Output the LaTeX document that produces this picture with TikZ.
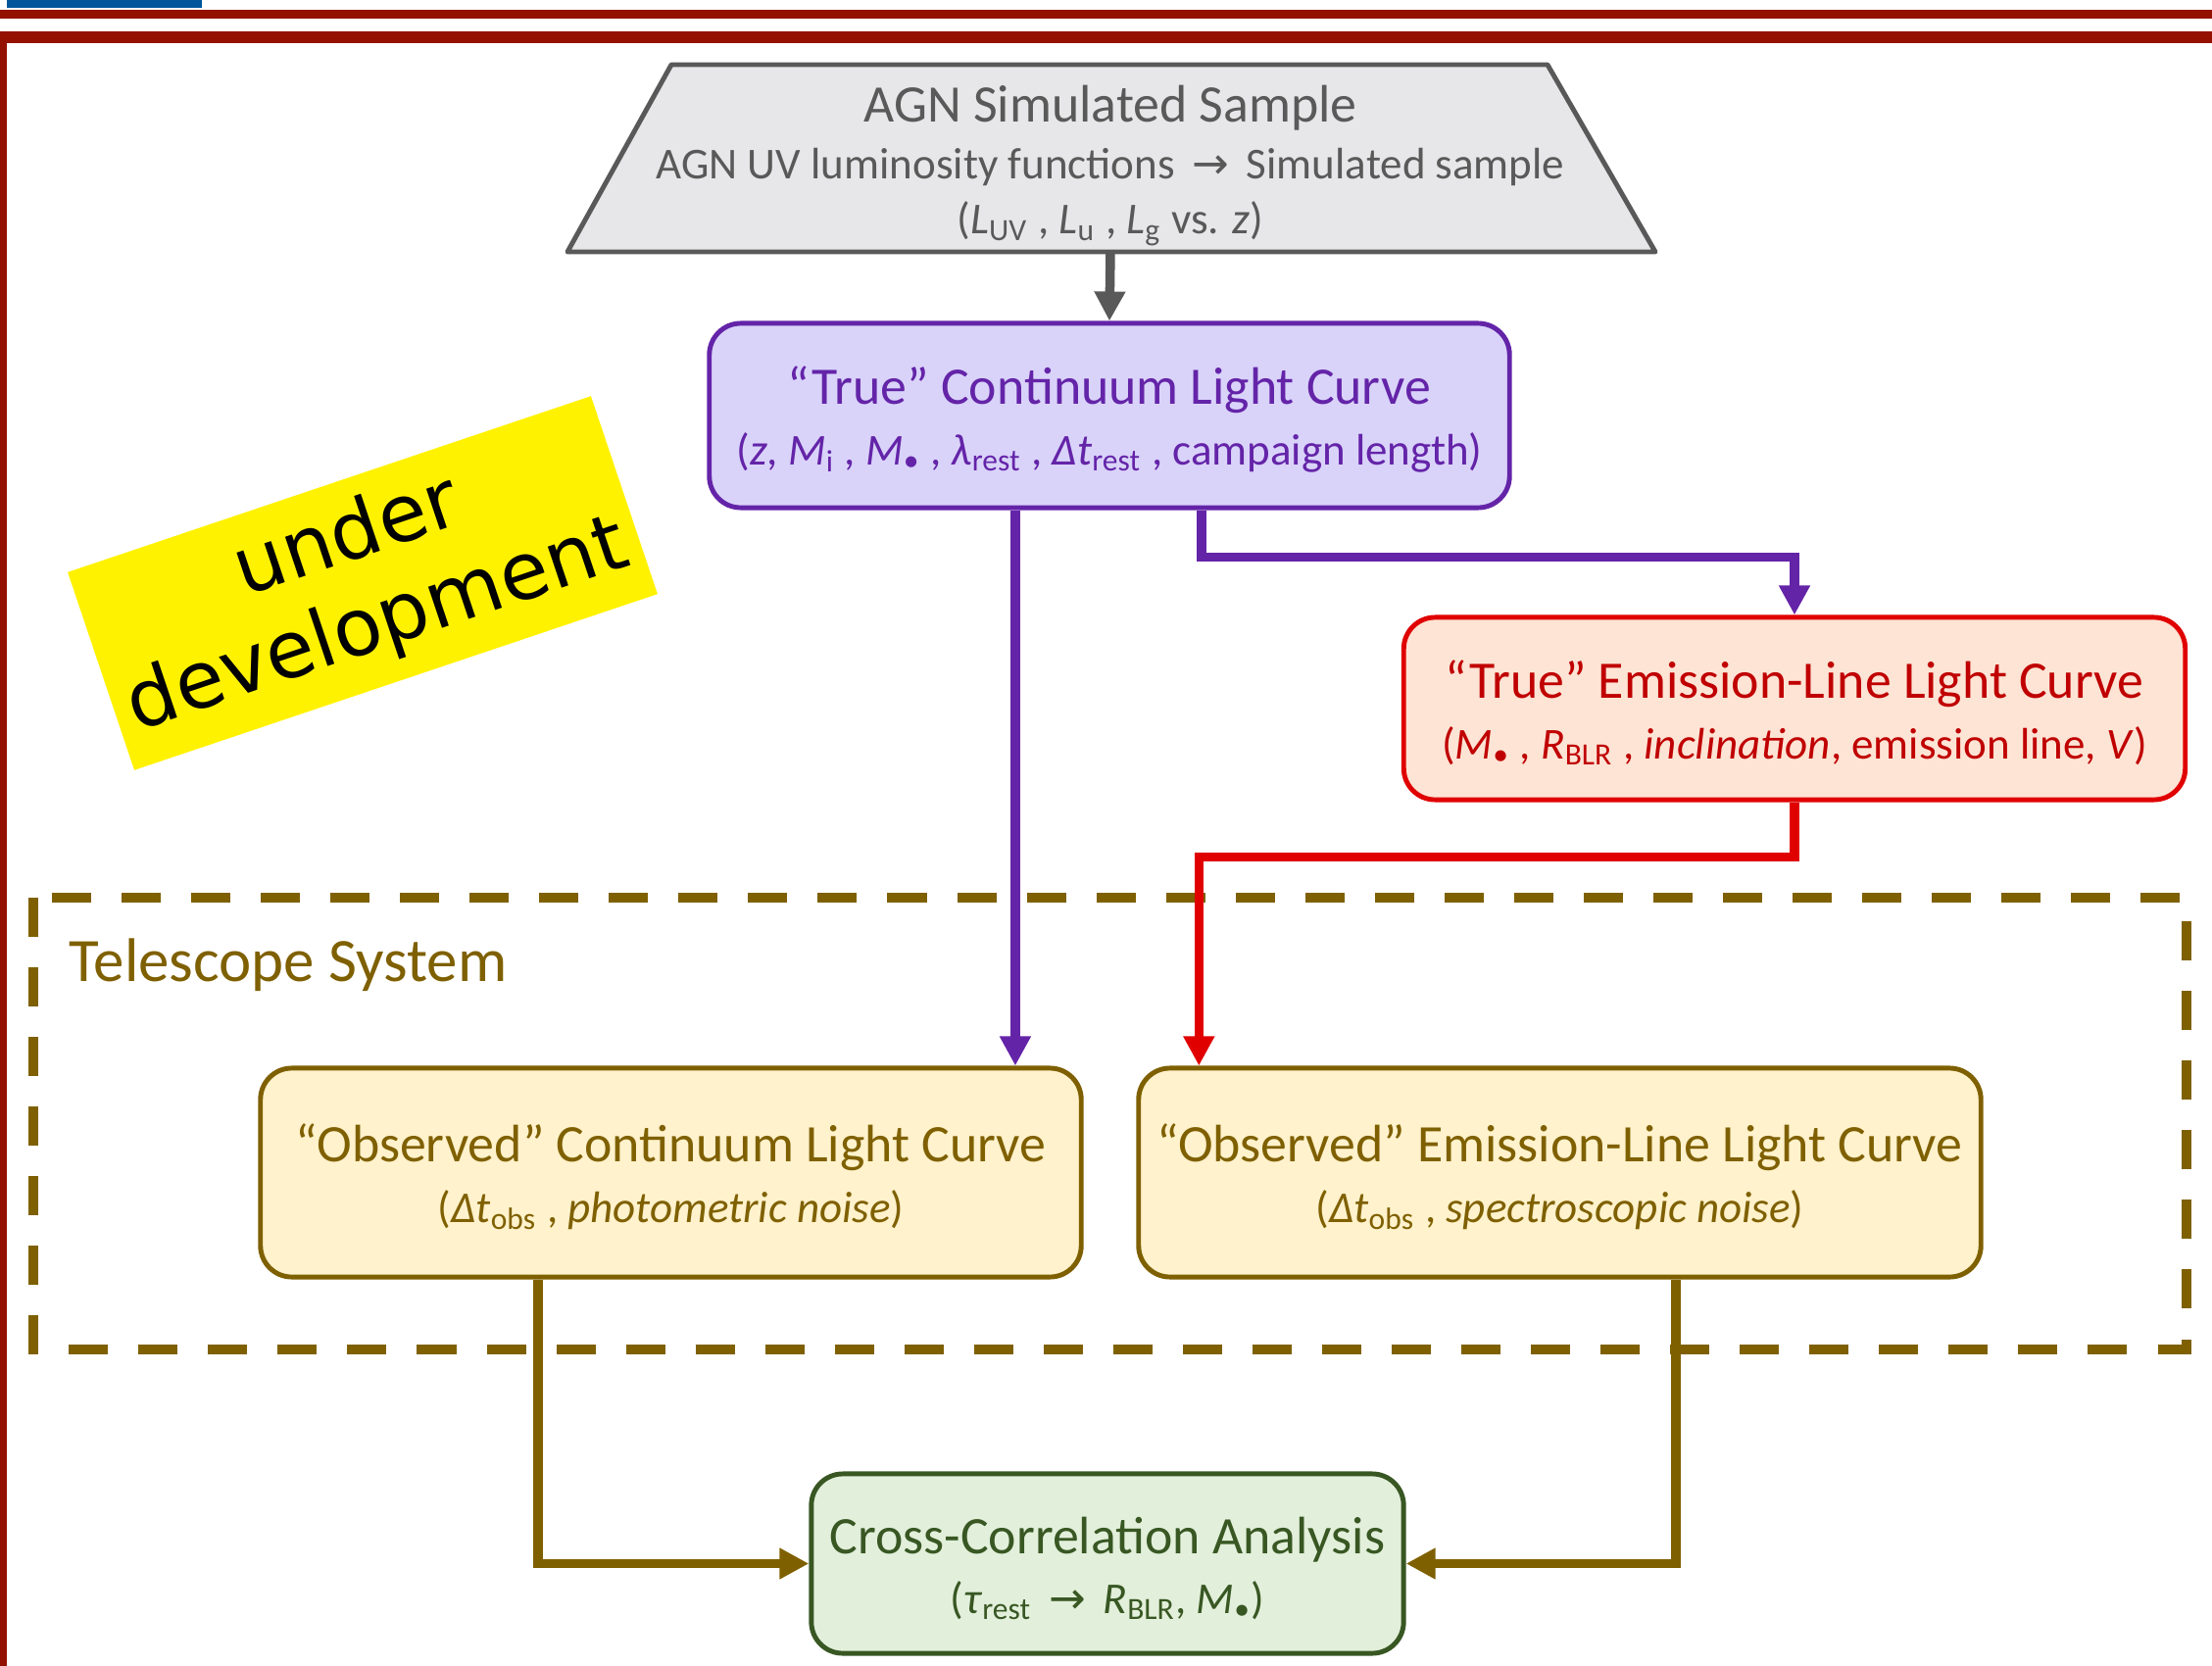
\documentclass[tikz,border=0pt]{standalone}
\usepackage{fontspec}
\setmainfont{Carlito}
\newfontfamily\arrowfont{DejaVu Sans}
\newfontfamily\notefont{DejaVu Sans}
\usetikzlibrary{arrows.meta}
\definecolor{barblue}{HTML}{00559B}
\definecolor{framered}{HTML}{941100}
\definecolor{samplegray}{HTML}{595959}
\definecolor{samplefill}{HTML}{E7E6E8}
\definecolor{contpurple}{HTML}{6424A8}
\definecolor{contfill}{HTML}{D9D3FA}
\definecolor{lineredge}{HTML}{E00000}
\definecolor{linetext}{HTML}{C00000}
\definecolor{linefill}{HTML}{FDE4D5}
\definecolor{teleolive}{HTML}{7F6000}
\definecolor{telefill}{HTML}{FFF2CC}
\definecolor{ccfgreen}{HTML}{385723}
\definecolor{ccffill}{HTML}{E2EFDA}
\newcommand{\lsub}[1]{\textsubscript{#1}}
\newcommand{\Mbh}{\textit{M}\textsubscript{•}}
\newcommand{\subsz}{\fontsize{12.8}{16}\selectfont}
\begin{document}
\begin{tikzpicture}[x=0.01cm,y=-0.01cm,
  box/.style={draw,rounded corners=0.32cm,line width=1.4pt,align=center,inner sep=0pt,font=\fontsize{15.3}{19}\selectfont},
  link/.style={line width=2.7pt,-{Triangle[length=0.3cm,width=0.3cm]}}]
\useasboundingbox (0,0) rectangle (2257,1700);
\fill[barblue](7,0) rectangle (206,8);
\fill[framered](0,10) rectangle (2257,19);
\fill[framered](0,32) rectangle (2257,44);
\fill[framered](0,44) rectangle (7,1700);
\draw[teleolive,line width=0.1cm,dash pattern=on 0.4cm off 0.31cm](34,916) rectangle (2231,1377);
\node[anchor=west,inner sep=0pt,text=teleolive,font=\fontsize{17.9}{20}\selectfont] (tele) at (70,985) {Telescope System};
\draw[samplegray,fill=samplefill,line width=1.4pt,line join=round](685,66)--(1579,66)--(1689,257)--(579,257)--cycle;
\coordinate (samplebase) at (1133,257);
\node[align=center,inner sep=0pt,text=samplegray,font=\fontsize{15.3}{19}\selectfont] (sample) at (1133,169)
  {AGN Simulated Sample\\[-2.5pt]{\subsz AGN UV luminosity functions \,{\arrowfont →}\, Simulated sample}\\[-3pt]
   {\subsz (\textit{L}\lsub{UV} , \textit{L}\lsub{u} , \textit{L}\lsub{g} vs. \textit{z})}};
\node[box,draw=contpurple,fill=contfill,text=contpurple,minimum width=8.16cm,minimum height=1.88cm] (true) at (1132,424)
  {\rule{0pt}{13.4pt}“True” Continuum Light Curve\\[-1.5pt]{\subsz (\textit{z}, \textit{M}\lsub{i} , \Mbh\ , \textit{λ}\lsub{rest} , \textit{Δt}\lsub{rest} , campaign length)}};
\node[box,draw=lineredge,fill=linefill,text=linetext,minimum width=7.97cm,minimum height=1.86cm] (emis) at (1831,723)
  {\rule{0pt}{13.4pt}“True” Emission-Line Light Curve\\[-1.5pt]{\subsz (\Mbh\ , \textit{R}\lsub{BLR} , \textit{inclination}, emission line, \textit{V})}};
\node[box,draw=teleolive,fill=telefill,text=teleolive,minimum width=8.37cm,minimum height=2.13cm] (obscont) at (684.5,1196.5)
  {\rule{0pt}{13.4pt}“Observed” Continuum Light Curve\\[-1.5pt]{\subsz (\textit{Δt}\lsub{obs} , \textit{photometric noise})}};
\node[box,draw=teleolive,fill=telefill,text=teleolive,minimum width=8.59cm,minimum height=2.13cm] (obsemis) at (1591.5,1196.5)
  {\rule{0pt}{13.4pt}“Observed” Emission-Line Light Curve\\[-1.5pt]{\subsz (\textit{Δt}\lsub{obs} , \textit{spectroscopic noise})}};
\node[box,draw=ccfgreen,fill=ccffill,text=ccfgreen,minimum width=6.04cm,minimum height=1.83cm] (ccf) at (1130,1595.5)
  {\rule{0pt}{13.4pt}Cross-Correlation Analysis\\[-1.5pt]{\subsz (\textit{τ}\lsub{rest} \,{\arrowfont →}\, \textit{R}\lsub{BLR}, \Mbh)}};
\node[fill=yellow,rotate=18.6,minimum width=5.63cm,minimum height=2.13cm,align=center,inner sep=0pt,
  font=\notefont\fontsize{23}{27}\selectfont] (note) at (370,595) {under\\development};
\draw[link,samplegray](samplebase) -- (true.north);
\draw[link,contpurple]([xshift=-0.96cm]true.south) -- ([xshift=-0.96cm]true.south |- obscont.north);
\draw[link,contpurple]([xshift=0.94cm]true.south) -- ++(0,48) -| (emis.north);
\draw[link,lineredge](emis.south) -- ++(0,56) -| ([xshift=0.64cm]obsemis.north west);
\draw[link,teleolive]([xshift=-1.355cm]obscont.south) |- (ccf.west);
\draw[link,teleolive]([xshift=1.185cm]obsemis.south) |- (ccf.east);
\end{tikzpicture}
\end{document}
